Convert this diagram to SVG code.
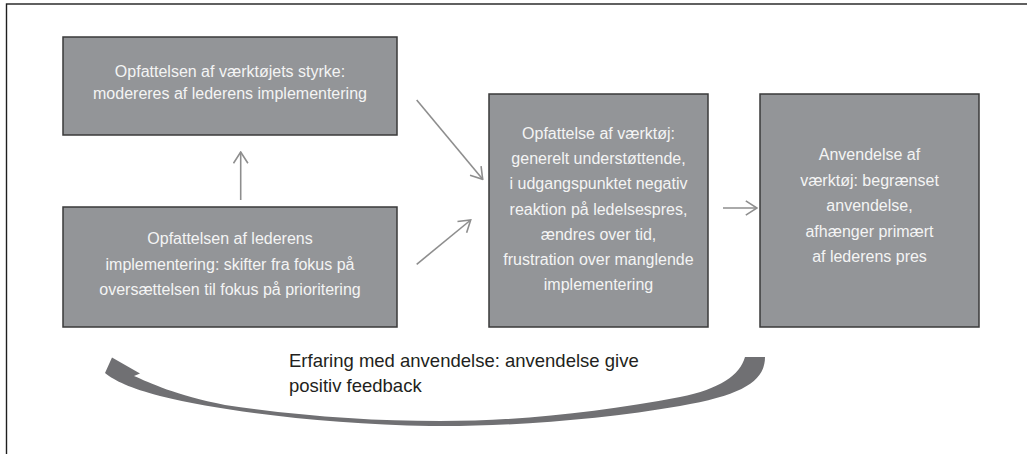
<svg xmlns="http://www.w3.org/2000/svg" width="1027" height="454" viewBox="0 0 1027 454">
<style>
.box{fill:#939598;stroke:#3a3a3a;stroke-width:1.5}
.bt{font-family:"Liberation Sans",Arial,sans-serif;font-size:16px;fill:#f4f4f4;text-anchor:middle}
.lbl{font-family:"Liberation Sans",Arial,sans-serif;font-size:18.5px;fill:#231f20}
.conn{stroke:#8e8e8e;stroke-width:1.6;fill:none}
</style>
<defs>
<marker id="ah" viewBox="0 0 13 16" refX="12" refY="8" markerWidth="13" markerHeight="16" markerUnits="userSpaceOnUse" orient="auto">
<path d="M0.8,0.8 L12,8 L0.8,15.2" fill="none" stroke="#8e8e8e" stroke-width="1.6"/>
</marker>
</defs>
<rect x="6.5" y="4" width="1040" height="470" fill="none" stroke="#1e1e1e" stroke-width="1.4"/>

<g id="node-styrke">
<rect class="box" x="63" y="37" width="334" height="98"/>
<text class="bt" x="230" y="77">Opfattelsen af værktøjets styrke:</text>
<text class="bt" x="230" y="98.5">modereres af lederens implementering</text>
</g>

<g id="node-lederens">
<rect class="box" x="63" y="207" width="334" height="120"/>
<text class="bt" x="230" y="244">Opfattelsen af lederens</text>
<text class="bt" x="230" y="269.5">implementering: skifter fra fokus på</text>
<text class="bt" x="230" y="295">oversættelsen til fokus på prioritering</text>
</g>

<g id="node-vaerktoej">
<rect class="box" x="489" y="94" width="219" height="233"/>
<text class="bt" x="598.5" y="139">Opfattelse af værktøj:</text>
<text class="bt" x="598.5" y="164">generelt understøttende,</text>
<text class="bt" x="598.5" y="189">i udgangspunktet negativ</text>
<text class="bt" x="598.5" y="214.5">reaktion på ledelsespres,</text>
<text class="bt" x="598.5" y="239.5">ændres over tid,</text>
<text class="bt" x="598.5" y="264.5">frustration over manglende</text>
<text class="bt" x="598.5" y="290">implementering</text>
</g>

<g id="node-anvendelse">
<rect class="box" x="760" y="94" width="219" height="233"/>
<text class="bt" x="869.5" y="159.5">Anvendelse af</text>
<text class="bt" x="869.5" y="185.5">værktøj: begrænset</text>
<text class="bt" x="869.5" y="210.5">anvendelse,</text>
<text class="bt" x="869.5" y="236.5">afhænger primært</text>
<text class="bt" x="869.5" y="261.5">af lederens pres</text>
</g>

<g id="connectors">
<line class="conn" x1="240.7" y1="200" x2="240.7" y2="152" marker-end="url(#ah)"/>
<line class="conn" x1="416.7" y1="100" x2="482.7" y2="179.3" marker-end="url(#ah)"/>
<line class="conn" x1="416.7" y1="264.3" x2="470.7" y2="220" marker-end="url(#ah)"/>
<line class="conn" x1="723" y1="208" x2="757" y2="208" marker-end="url(#ah)"/>
<path id="feedback" fill="#707073" d="M765,357 C765,380 745,395 680,406 C600,420 500,427 430,426 C330,424 230,413 160,396 C130,388 115,381 105,373 L112,357.5 L140,373.5 L134,376 C150,383 175,395 225,405 C300,416 370,421 440,421 C520,421 600,412 680,397 C720,389 740,375 745,357 Z"/>
</g>

<g id="label-feedback">
<text class="lbl" x="289" y="367">Erfaring med anvendelse: anvendelse give</text>
<text class="lbl" x="289" y="392">positiv feedback</text>
</g>
</svg>
